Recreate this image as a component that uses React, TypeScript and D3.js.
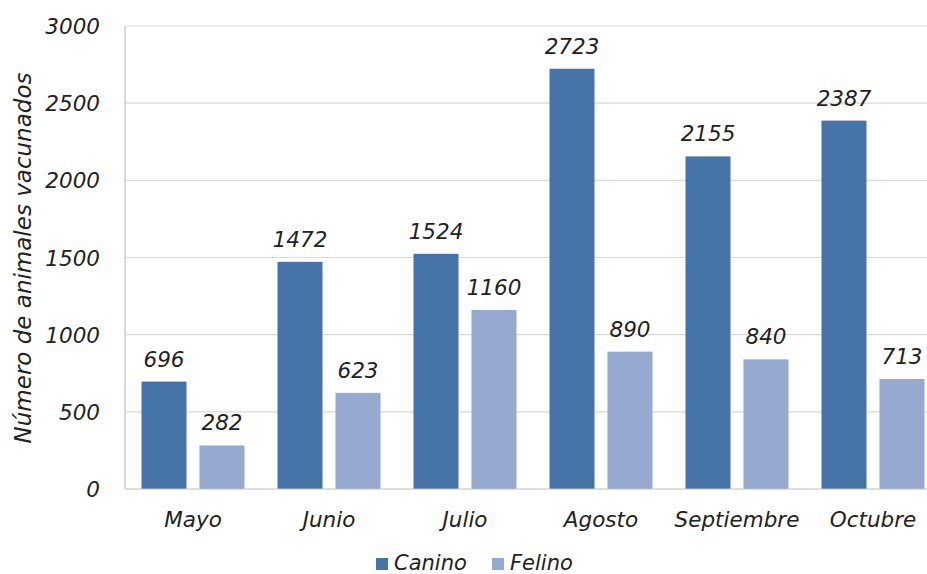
import * as d3 from 'd3';
import { useEffect, useRef } from 'react';

const months = ['Mayo', 'Junio', 'Julio', 'Agosto', 'Septiembre', 'Octubre'];
const series = ['Canino', 'Felino'];
const canino = [696, 1472, 1524, 2723, 2155, 2387];
const felino = [282, 623, 1160, 890, 840, 713];
const yTicks = [0, 500, 1000, 1500, 2000, 2500, 3000];
const colors = ['#4673a8', '#95a9d1'];

const W = 927;
const H = 574;
const FONT = '"DejaVu Sans", sans-serif';

export default function App() {
  const ref = useRef<SVGSVGElement>(null);

  useEffect(() => {
    const svg = d3.select(ref.current);
    svg.selectAll('*').remove();

    const left = 125;
    const top = 26;
    const bottom = 489;

    const x = d3.scaleBand().domain(months).range([left, left + 136 * 6]).paddingInner(0).paddingOuter(0);
    const sub = d3.scaleBand().domain(series).range([16.5, 136 - 16.5]).paddingInner(0.224);
    const y = d3.scaleLinear().domain([0, 3000]).range([bottom, top]);

    const txt = (sel: any, size: number) => sel
      .attr('font-family', FONT)
      .attr('font-style', 'italic')
      .attr('font-size', size)
      .attr('fill', '#222');

    // grid
    svg.append('g')
      .selectAll('line')
      .data(yTicks.filter((d) => d > 0))
      .enter()
      .append('line')
      .attr('x1', left)
      .attr('x2', W)
      .attr('y1', (d) => y(d))
      .attr('y2', (d) => y(d))
      .attr('stroke', '#d9d9d9')
      .attr('stroke-width', 1.2);

    // y tick labels
    svg.append('g')
      .selectAll('text')
      .data(yTicks)
      .enter()
      .append('text')
      .attr('x', 100)
      .attr('y', (d) => y(d) + 8)
      .attr('text-anchor', 'end')
      .call(txt, 21.5)
      .text((d) => d);

    // bars
    const data = [canino, felino];
    series.forEach((s, si) => {
      const g = svg.append('g');
      g.selectAll('rect')
        .data(data[si])
        .enter()
        .append('rect')
        .attr('x', (d, i) => (x(months[i]) as number) + (sub(s) as number))
        .attr('y', (d) => y(d))
        .attr('width', sub.bandwidth())
        .attr('height', (d) => bottom - y(d))
        .attr('fill', colors[si]);
      g.selectAll('text')
        .data(data[si])
        .enter()
        .append('text')
        .attr('x', (d, i) => (x(months[i]) as number) + (sub(s) as number) + sub.bandwidth() / 2)
        .attr('y', (d) => y(d) - 15)
        .attr('text-anchor', 'middle')
        .call(txt, 21.5)
        .text((d) => d);
    });

    // axes lines
    svg.append('line')
      .attr('x1', left).attr('x2', W)
      .attr('y1', bottom).attr('y2', bottom)
      .attr('stroke', '#bfbfbf').attr('stroke-width', 1.2);
    svg.append('line')
      .attr('x1', left).attr('x2', left)
      .attr('y1', top).attr('y2', bottom)
      .attr('stroke', '#bfbfbf').attr('stroke-width', 1.2);

    // month labels
    svg.append('g')
      .selectAll('text')
      .data(months)
      .enter()
      .append('text')
      .attr('x', (d) => (x(d) as number) + 68)
      .attr('y', 527)
      .attr('text-anchor', 'middle')
      .call(txt, 21.5)
      .text((d) => d);

    // y title
    svg.append('text')
      .attr('transform', 'translate(31,258) rotate(-90)')
      .attr('text-anchor', 'middle')
      .call(txt, 23)
      .text('Número de animales vacunados');

    // legend
    const legX = [376, 492];
    series.forEach((s, i) => {
      svg.append('rect')
        .attr('x', legX[i]).attr('y', 558)
        .attr('width', 12).attr('height', 12)
        .attr('fill', colors[i]);
      svg.append('text')
        .attr('x', legX[i] + 18).attr('y', 570)
        .call(txt, 21)
        .text(s);
    });
  }, []);

  return (
    <svg
      ref={ref}
      width={W}
      height={H}
      style={{ position: 'absolute', left: 0, top: 0, background: '#fff' }}
    />
  );
}
